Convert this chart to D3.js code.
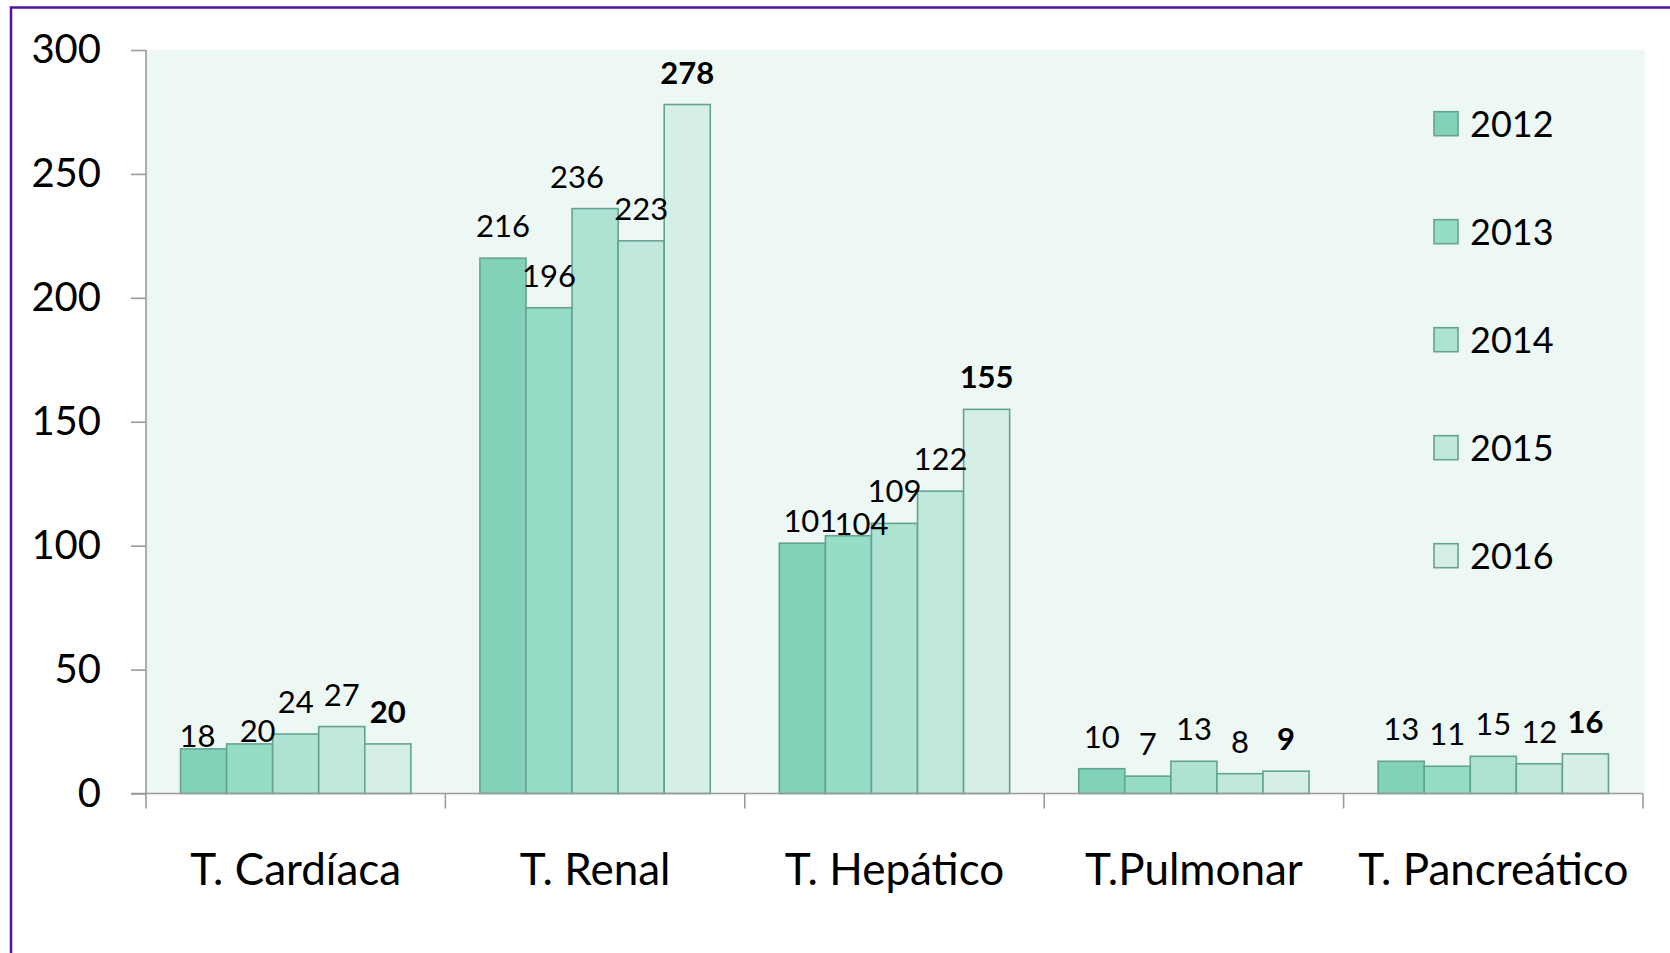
<!DOCTYPE html>
<html>
<head>
<meta charset="utf-8">
<title>Trasplantes 2012-2016</title>
<script src="https://cdn.jsdelivr.net/npm/d3@7/dist/d3.min.js"></script>
<style>
  html, body { margin: 0; padding: 0; background: #ffffff; }
  svg { display: block; font-family: Lato, "Noto Sans", sans-serif; }
</style>
</head>
<body>
<svg id="chart" width="1670" height="953"></svg>
<script>
// chart data
var categories = ["T. Cardíaca", "T. Renal", "T. Hepático", "T.Pulmonar", "T. Pancreático"];
var years = ["2012", "2013", "2014", "2015", "2016"];
var v2012 = [18, 216, 101, 10, 13];
var v2013 = [20, 196, 104, 7, 11];
var v2014 = [24, 236, 109, 13, 15];
var v2015 = [27, 223, 122, 8, 12];
var v2016 = [20, 278, 155, 9, 16];
var yTicks = [0, 50, 100, 150, 200, 250, 300];

var series = [v2012, v2013, v2014, v2015, v2016];
var colors = ["#82d2ba", "#96dcc7", "#aee2d3", "#c1e8dd", "#d5efe6"];

// a few data labels were dragged by hand in the original
var nudge = {
  "0-0": [-6, 19], "0-1": [8, 19],
  "1-2": [-18, 0],
  "2-0": [8, 10], "2-1": [13, 20]
};

var svg = d3.select("#chart");

// purple frame
svg.append("rect")
  .attr("x", 11).attr("y", 7.5)
  .attr("width", 1700).attr("height", 1000)
  .attr("fill", "none")
  .attr("stroke", "#5010a4")
  .attr("stroke-width", 2.5);

var plotLeft = 146, plotRight = 1643, plotTop = 50, plotBottom = 793.5;

var x = d3.scaleBand().domain(categories).range([plotLeft, plotRight]);
var gap = x.bandwidth() * 1.5 / 6.5;
var xs = d3.scaleBand().domain(years).range([gap / 2, x.bandwidth() - gap / 2]);
var y = d3.scaleLinear().domain([0, 300]).range([plotBottom, plotTop]);

// plot area background
svg.append("rect")
  .attr("x", plotLeft).attr("y", plotTop)
  .attr("width", 1645 - plotLeft).attr("height", plotBottom - plotTop)
  .attr("fill", "#edf7f3");

// bars
var rows = [];
categories.forEach(function(c, ci) {
  years.forEach(function(yr, si) {
    rows.push({ cat: c, ci: ci, year: yr, si: si, value: series[si][ci] });
  });
});

svg.append("g").selectAll("rect")
  .data(rows)
  .enter().append("rect")
  .attr("x", function(d) { return x(d.cat) + xs(d.year); })
  .attr("y", function(d) { return y(d.value); })
  .attr("width", xs.bandwidth())
  .attr("height", function(d) { return y(0) - y(d.value); })
  .attr("fill", function(d) { return colors[d.si]; })
  .attr("stroke", "#65a391")
  .attr("stroke-width", 1.6);

// data labels
svg.append("g").selectAll("text")
  .data(rows)
  .enter().append("text")
  .attr("x", function(d) {
    var n = nudge[d.ci + "-" + d.si] || [0, 0];
    return x(d.cat) + xs(d.year) + xs.bandwidth() / 2 + n[0];
  })
  .attr("y", function(d) {
    var n = nudge[d.ci + "-" + d.si] || [0, 0];
    return y(d.value) - 21 + n[1];
  })
  .attr("text-anchor", "middle")
  .attr("font-size", 31)
  .attr("font-weight", function(d) { return d.si === 4 ? "bold" : "normal"; })
  .attr("fill", "#000")
  .text(function(d) { return d.value; });

// y axis
var yAxis = svg.append("g")
  .attr("transform", "translate(" + plotLeft + ",0)")
  .call(d3.axisLeft(y).tickValues(yTicks).tickSize(15).tickPadding(30));
yAxis.selectAll("line, path").attr("stroke", "#9a9a9a").attr("stroke-width", 1.6);
yAxis.select(".domain").attr("d", "M0," + plotTop + "V" + plotBottom);
yAxis.selectAll("text")
  .attr("font-family", "Lato, 'Noto Sans', sans-serif")
  .attr("font-size", 40)
  .attr("fill", "#000");

// x axis with ticks between categories
var xAxis = svg.append("g")
  .attr("transform", "translate(0," + plotBottom + ")");
xAxis.append("line")
  .attr("x1", plotLeft - 15).attr("x2", plotRight)
  .attr("stroke", "#9a9a9a").attr("stroke-width", 1.6);
xAxis.selectAll("line.tick")
  .data(categories.concat([null]))
  .enter().append("line")
  .attr("class", "tick")
  .attr("x1", function(d) { return d === null ? plotRight : x(d); })
  .attr("x2", function(d) { return d === null ? plotRight : x(d); })
  .attr("y1", 0).attr("y2", 15)
  .attr("stroke", "#9a9a9a").attr("stroke-width", 1.6);
xAxis.selectAll("text")
  .data(categories)
  .enter().append("text")
  .attr("x", function(d) { return x(d) + x.bandwidth() / 2; })
  .attr("y", 91)
  .attr("text-anchor", "middle")
  .attr("font-size", 44)
  .attr("fill", "#000")
  .text(function(d) { return d; });

// legend
var legend = svg.append("g").selectAll("g")
  .data(years)
  .enter().append("g")
  .attr("transform", function(d, i) { return "translate(1434," + (123.7 + i * 108) + ")"; });
legend.append("rect")
  .attr("x", 0).attr("y", -12)
  .attr("width", 24).attr("height", 24)
  .attr("fill", function(d, i) { return colors[i]; })
  .attr("stroke", "#65a391")
  .attr("stroke-width", 1.6);
legend.append("text")
  .attr("x", 36).attr("y", 0)
  .attr("dy", "0.36em")
  .attr("font-size", 36)
  .attr("fill", "#000")
  .text(function(d) { return d; });
</script>
</body>
</html>
